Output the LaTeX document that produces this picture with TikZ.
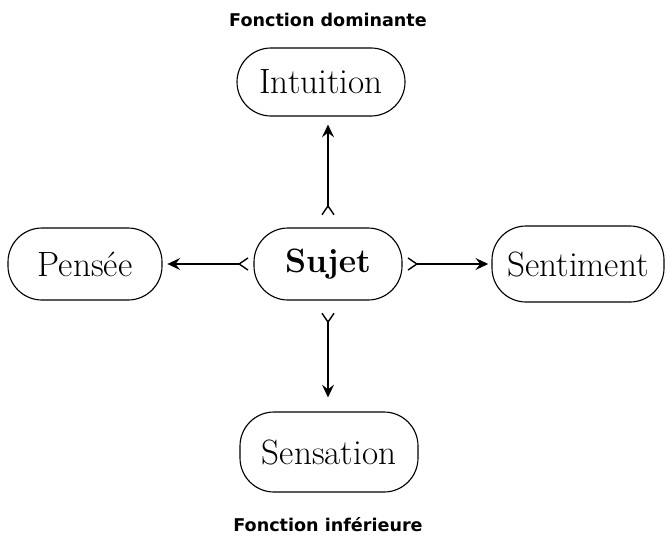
\documentclass[tikz,border=0pt]{standalone}
\usepackage{fontspec}
\newfontfamily\labfont{DejaVu Sans}
\usetikzlibrary{arrows.meta}
\begin{document}
\begin{tikzpicture}[
  fbox/.style={draw, line width=0.8pt, rounded corners=0.85cm, inner sep=0pt, font=\fontsize{25}{28}\selectfont},
  conn/.style={line width=1pt, {Straight Barb[reversed,length=2.2mm,width=3mm]}-{Stealth[length=3.2mm,width=3mm,inset=1.2mm]}},
  lab/.style={font=\labfont\bfseries\fontsize{12.5}{14}\selectfont}
]
\useasboundingbox (0,0) rectangle (16.725,13.525);
\node[lab] (fd) at (8.2,13.025) {Fonction dominante};
\node[lab] (fi) at (8.2,0.4) {Fonction inférieure};
\node[fbox, minimum width=4.2cm, minimum height=1.7cm] (int) at (8.025,11.475) {Intuition};
\node[fbox, minimum width=3.7cm, minimum height=1.8cm, font=\fontsize{24}{28}\selectfont\bfseries] (suj) at (8.2,6.925) {Sujet};
\node[fbox, minimum width=3.85cm, minimum height=1.8cm] (pen) at (2.125,6.925) {Pensée};
\node[fbox, minimum width=4.3cm, minimum height=1.9cm] (sen) at (14.45,6.925) {Sentiment};
\node[fbox, minimum width=4.45cm, minimum height=2.0cm] (sns) at (8.225,2.225) {Sensation};
\draw[conn, shorten <=0.3cm, shorten >=0.2cm] (suj.north) -- (suj.north |- int.south);
\draw[conn, shorten <=0.3cm, shorten >=0.35cm] (suj.south) -- (suj.south |- sns.north);
\draw[conn, shorten <=0.12cm, shorten >=0.12cm] (suj.west) -- (pen.east);
\draw[conn, shorten <=0.12cm, shorten >=0.08cm] (suj.east) -- (sen.west);
\end{tikzpicture}
\end{document}
